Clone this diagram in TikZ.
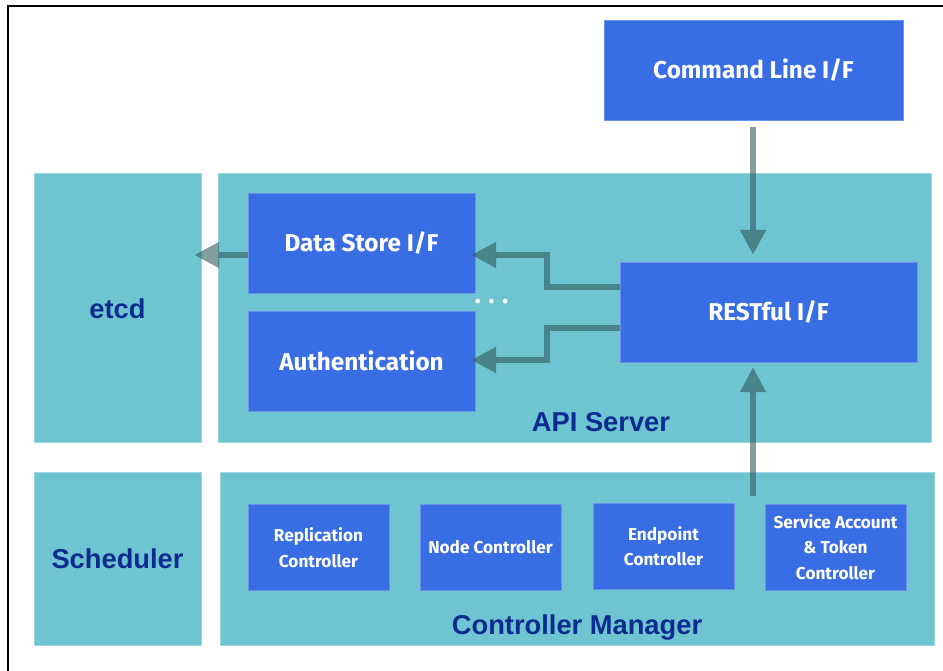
\documentclass[tikz,border=0pt]{standalone}
\usepackage{fontspec}
\setmainfont{Fira Sans}
\newfontfamily\headfont{Liberation Sans}
\usetikzlibrary{arrows.meta}
\definecolor{panelc}{HTML}{6FC4D1}
\definecolor{boxblue}{HTML}{396DE3}
\definecolor{headblue}{HTML}{0B2C8E}
\definecolor{arrowc}{HTML}{2C5858}
\begin{document}
\begin{tikzpicture}[x=1pt,y=-1pt,
  panel/.style 2 args={fill=panelc, draw=panelc!70!white, line width=0.8pt,
    minimum width=#1, minimum height=#2, inner sep=0pt, outer sep=0pt},
  bluebox/.style 2 args={fill=boxblue, draw=boxblue!75!white, line width=0.8pt,
    minimum width=#1, minimum height=#2, inner sep=0pt, outer sep=0pt,
    text=white, font=\bfseries\fontsize{24.3}{28}\selectfont, align=center},
  smallbox/.style={bluebox={141}{86}, font=\bfseries\fontsize{17.2}{25.5}\selectfont},
  headtext/.style={text=headblue, font=\headfont\bfseries\fontsize{27.3}{30}\selectfont, inner sep=0pt},
  conn/.style={draw=arrowc, opacity=0.58, line width=6pt,
    -{Triangle[width=26pt,length=24pt,line width=0.01pt,fill=arrowc]}},
  border/.style={draw=black, line width=2.5pt}
]
\useasboundingbox (0,0) rectangle (943,671);
\fill[white] (0,0) rectangle (943,671);
\coordinate (bl) at (8,671);
\coordinate (tl) at (8,6);
\coordinate (tr) at (943,6);
\draw[border] (bl) -- (tl) -- (tr);

% panels
\node[panel={167}{269}] (etcd) at (117.5,307.5) {};
\node[headtext] (etcdlabel) at (117.5,309) {etcd};
\node[panel={713}{269}] (api) at (574.5,307.5) {};
\node[headtext] (apilabel) at (601,422) {API Server};
\node[panel={167}{173}] (sched) at (117.5,558.5) {};
\node[headtext] (schedlabel) at (117.5,559) {Scheduler};
\node[panel={714}{173}] (cm) at (577,558.5) {};
\node[headtext] (cmlabel) at (577,627) {Controller Manager};

% blue boxes
\node[bluebox={299}{100}] (cli) at (753.5,70) {Command Line I/F};
\node[bluebox={227}{100}] (ds) at (361.5,243) {Data Store I/F};
\node[bluebox={227}{100}] (auth) at (361.5,361) {Authentication};
\node[bluebox={297}{100}] (rest) at (768.5,312) {RESTful I/F};
\node[smallbox] (rc) at (318.5,547.5) {Replication\\Controller};
\node[smallbox] (nc) at (490.5,547.5) {Node Controller};
\node[smallbox] (ec) at (663.5,546) {Endpoint\\Controller};
\node[smallbox] (sa) at (835.5,547) {Service Account\\\& Token\\Controller};
\node[text=white, font=\bfseries\fontsize{26}{26}\selectfont, inner sep=0pt, anchor=base] (dots) at (491.5,304) {.\hspace{7.5pt}.\hspace{7.5pt}.};

% connectors
\coordinate (cliout) at (753,127);
\coordinate (restin) at (753,254);
\draw[conn] (cliout) -- (restin);
\coordinate (cmout) at (753,496);
\coordinate (restin2) at (753,368);
\draw[conn] (cmout) -- (restin2);
\coordinate (etcdin) at (195,255);
\draw[conn] (ds.west |- etcdin) -- (etcdin);
\coordinate (dsin) at (472,255);
\coordinate (authin) at (472,360);
\coordinate (bendx) at (547,0);
\draw[conn] (rest.west |- 0,287) -| (bendx |- dsin) -- (dsin);
\draw[conn] (rest.west |- 0,328) -| (bendx |- authin) -- (authin);
\end{tikzpicture}
\end{document}
